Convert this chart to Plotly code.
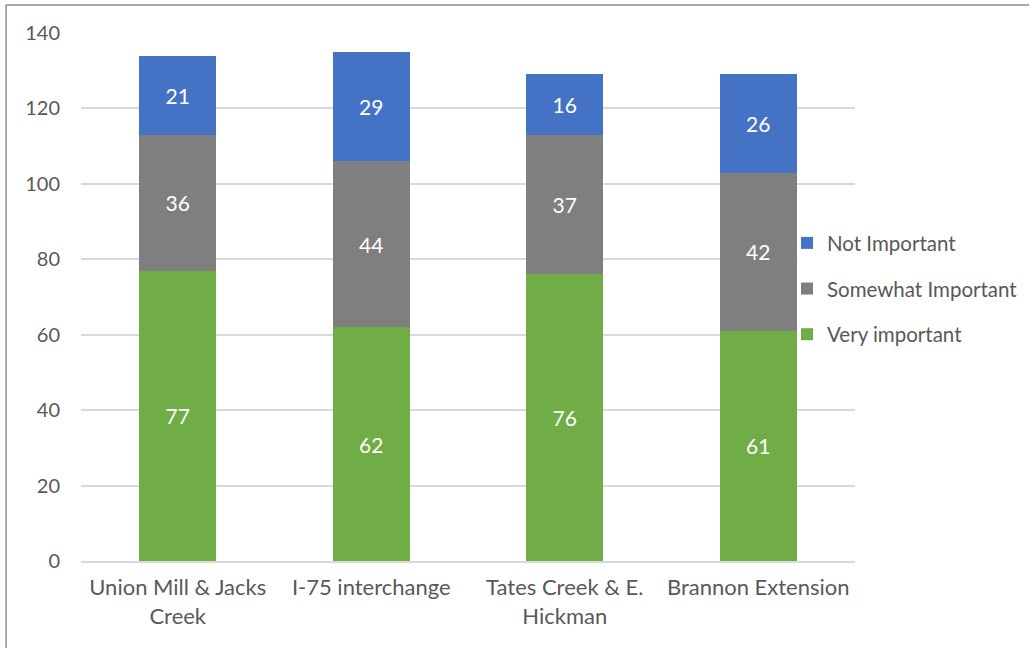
import plotly.graph_objects as go

# Survey responses per project location
locations = ["Union Mill & Jacks<br>Creek", "I-75 interchange",
             "Tates Creek & E.<br>Hickman", "Brannon Extension"]
very_important = [77, 62, 76, 61]
somewhat_important = [36, 44, 37, 42]
not_important = [21, 29, 16, 26]

y_ticks = [0, 20, 40, 60, 80, 100, 120, 140]

FONT = "Lato, Calibri, Carlito, sans-serif"
TEXT_GREY = "#595959"

# (name, values, colour, legend rank) - stacked bottom to top
series = [
    ("Very important", very_important, "#70AD47", 3),
    ("Somewhat Important", somewhat_important, "#7F7F7F", 2),
    ("Not Important", not_important, "#4472C4", 1),
]

BARGAP = 0.6

fig = go.Figure()
for name, values, color, rank in series:
    fig.add_trace(go.Bar(
        x=locations,
        y=values,
        name=name,
        legendgroup=name,
        legendrank=rank,
        marker=dict(color=color, line=dict(width=0)),
        text=values,
        textposition="inside",
        insidetextanchor="middle",
        textangle=0,
        textfont=dict(family=FONT, size=21, color="white"),
        constraintext="none",
    ))

# White panel behind the legend hides the gridlines right of the last bar
last = len(locations) - 1
fig.add_shape(type="rect", xref="x", yref="y",
              x0=last + (1 - BARGAP) / 2 + 0.002, x1=last + 0.5, y0=56, y1=89,
              fillcolor="white", line=dict(width=0), layer="above")

# Outer frame lines (top and left edges)
frame = dict(type="line", xref="paper", yref="paper",
             line=dict(color="#8c8c8c", width=1.5), layer="above")
fig.add_shape(**frame, x0=-0.0968, x1=1.225, y0=1.053, y1=1.053)
fig.add_shape(**frame, x0=-0.0968, x1=-0.0968, y0=1.053, y1=-0.2)

fig.update_layout(
    width=1034,
    height=648,
    barmode="stack",
    bargap=BARGAP,
    plot_bgcolor="white",
    paper_bgcolor="white",
    margin=dict(l=81, r=178, t=33, b=87),
    font=dict(family=FONT, size=18, color=TEXT_GREY),
    uniformtext=dict(mode=False),
    legend=dict(
        x=(787 - 81) / 775, y=0.64, xanchor="left", yanchor="top",
        bgcolor="rgba(0,0,0,0)",
        traceorder="grouped",
        tracegroupgap=16,
        font=dict(family=FONT, size=20.5, color=TEXT_GREY),
        itemwidth=30,
    ),
    xaxis=dict(
        showgrid=False,
        showline=True,
        linecolor="#d9d9d9",
        linewidth=1.5,
        ticks="",
        ticklabelstandoff=6,
        tickfont=dict(family=FONT, size=22, color=TEXT_GREY),
        fixedrange=True,
    ),
    yaxis=dict(
        range=[0, 140],
        tickvals=y_ticks,
        showgrid=True,
        gridcolor="#d9d9d9",
        gridwidth=1.5,
        zeroline=False,
        showline=False,
        ticks="",
        ticklabelstandoff=20,
        tickfont=dict(family=FONT, size=20, color=TEXT_GREY),
    ),
)

fig.write_html("out.html")
